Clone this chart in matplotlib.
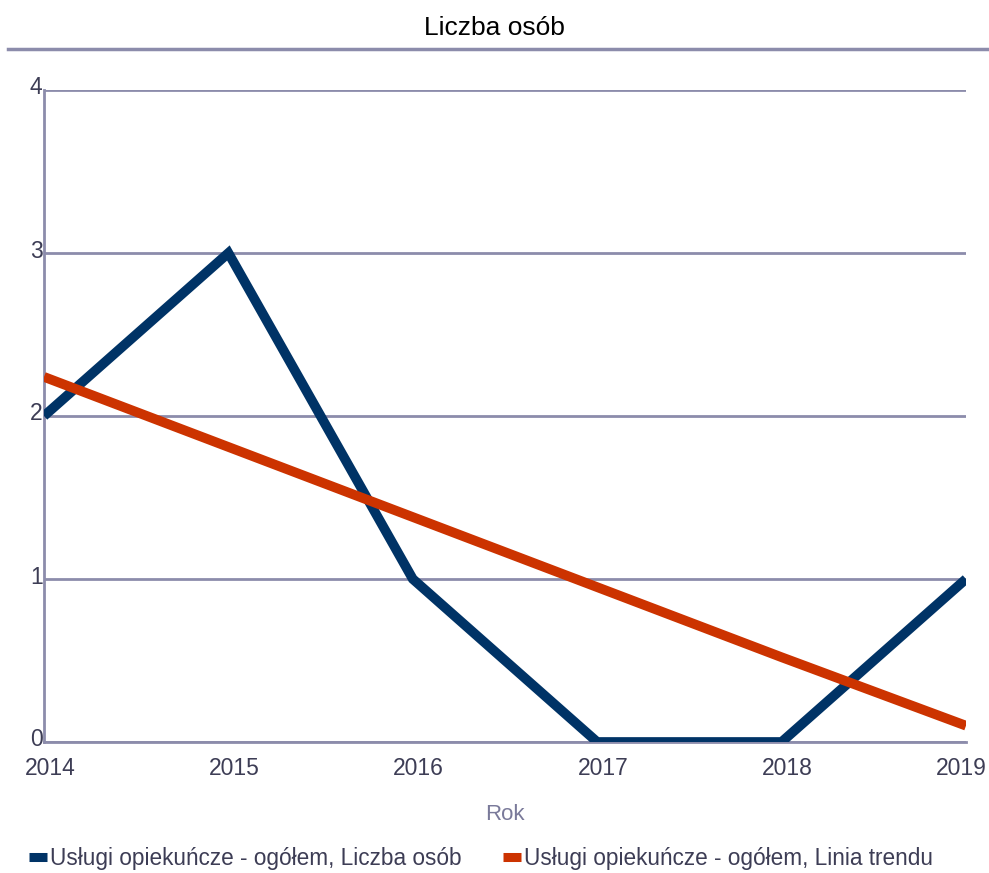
import matplotlib.pyplot as plt
import matplotlib.transforms as mtransforms
from matplotlib.lines import Line2D

plt.rcParams['font.family'] = ['Liberation Sans', 'DejaVu Sans']

years = [2014, 2015, 2016, 2017, 2018, 2019]
liczba_osob = [2, 3, 1, 0, 0, 1]
linia_trendu = [2.24, 1.81, 1.38, 0.95, 0.52, 0.10]
y_ticks = [0, 1, 2, 3, 4]

grid_col = '#8c8cab'
text_col = '#3d3d55'

fig = plt.figure(figsize=(9.89, 8.73), dpi=100)
ax = fig.add_axes([44 / 989, 1 - 742 / 873, 922 / 989, 652 / 873])

ax.plot(years, liczba_osob, color='#003366', lw=7, solid_capstyle='butt',
        solid_joinstyle='miter', zorder=3)
ax.plot(years, linia_trendu, color='#cc3300', lw=7, solid_capstyle='butt', zorder=4)

ax.set_xlim(2014, 2019)
ax.set_ylim(0, 4)
ax.set_yticks(y_ticks)
ax.set_xticks(years)
ax.grid(axis='y', color=grid_col, lw=2)
ax.set_axisbelow(True)
for s in ['top', 'right']:
    ax.spines[s].set_visible(False)
ax.spines['left'].set_color(grid_col)
ax.spines['left'].set_linewidth(2)
ax.spines['bottom'].set_color(grid_col)
ax.spines['bottom'].set_linewidth(2)
ax.tick_params(length=0, colors=text_col, labelsize=16.5)
ax.tick_params(axis='y', pad=1)
ax.tick_params(axis='x', pad=11)

up = mtransforms.ScaledTranslation(0, 2 / 100, fig.dpi_scale_trans)
for lbl in ax.get_yticklabels():
    lbl.set_verticalalignment('center')
    lbl.set_transform(lbl.get_transform() + up)

xlabels = ax.get_xticklabels()
right = mtransforms.ScaledTranslation(6 / 100, 0, fig.dpi_scale_trans)
for lbl in xlabels[:-1]:
    lbl.set_transform(lbl.get_transform() + right)
last = mtransforms.ScaledTranslation(21 / 100, 0, fig.dpi_scale_trans)
xlabels[-1].set_horizontalalignment('right')
xlabels[-1].set_transform(xlabels[-1].get_transform() + last)

ax.set_xlabel('Rok', fontsize=16, color='#7a7a9a', labelpad=17)

fig.text(0.5, 1 - 28 / 873, 'Liczba osób', ha='center', va='center', fontsize=19, color='black')
fig.add_artist(Line2D([8 / 989, 1], [1 - 49 / 873, 1 - 49 / 873], color=grid_col, lw=2.5))

handles = [Line2D([], [], color='#003366', lw=6.5, solid_capstyle='butt'),
           Line2D([], [], color='#cc3300', lw=6.5, solid_capstyle='butt')]
labels = ['Usługi opiekuńcze - ogółem, Liczba osób', 'Usługi opiekuńcze - ogółem, Linia trendu']
fig.legend(handles, labels, loc='center left', bbox_to_anchor=(9 / 989, 1 - 858 / 873), ncol=2,
           frameon=False, fontsize=16.3, handlelength=0.76, handletextpad=0.15, columnspacing=1.85,
           labelcolor=text_col)

fig.savefig('out.png', dpi=100)
